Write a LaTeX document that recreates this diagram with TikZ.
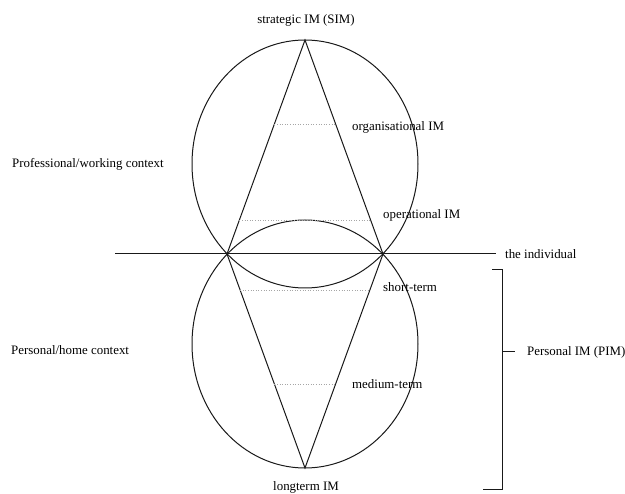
\documentclass[tikz,border=0pt]{standalone}
\usepackage{fontspec}
\setmainfont{Liberation Serif}
\usetikzlibrary{positioning,calc}
\tikzset{
  lbl/.style={font=\fontsize{12.9}{15}\selectfont,inner sep=0pt},
  frame/.style={line width=1pt,draw=black!90},
  level/.style={dotted,draw=gray!70,line width=0.6pt},
}

\begin{document}
\begin{tikzpicture}[x=1pt,y=-1pt]
\useasboundingbox (0,0) rectangle (625,494);
% the two contexts
\coordinate (cu) at (305,164);
\coordinate (cl) at (305,344);
\draw[frame] (cu) ellipse [x radius=113pt,y radius=124pt];
\draw[frame] (cl) ellipse [x radius=113pt,y radius=124pt];
% diamond
\coordinate (top) at (305,40);
\coordinate (bot) at (305,468);
\coordinate (bl) at (227,254);
\coordinate (br) at (383,254);
\draw[frame] (top) -- (bl) -- (bot) -- (br) -- cycle;
% labels
\node[lbl] (sim) at (306,20) {strategic IM (SIM)};
\node[lbl,anchor=west] (org) at (352,127) {organisational IM};
\node[lbl,anchor=west] (ops) at (383,215) {operational IM};
\node[lbl,anchor=west] (ind) at (505,254) {the individual};
\node[lbl,anchor=west] (st) at (383,287) {short-term};
\node[lbl,anchor=west] (mt) at (352,384) {medium-term};
\node[lbl] (lt) at (306,487) {longterm IM};
\node[lbl,anchor=west] (prof) at (12,164) {Professional/working context};
\node[lbl,anchor=west] (home) at (11,350) {Personal/home context};
\node[lbl,anchor=west] (pim) at (527,352) {Personal IM (PIM)};
% levels
\draw[level] ($(top)!0.393!(bl)$) -- ($(top)!0.393!(br)$);
\draw[level] ($(top)!0.841!(bl)$) -- ($(top)!0.841!(br)$);
\draw[level] ($(bl)!0.168!(bot)$) -- ($(br)!0.168!(bot)$);
\draw[level] ($(bl)!0.607!(bot)$) -- ($(br)!0.607!(bot)$);
% the individual
\coordinate (hl) at (115,254);
\draw[frame] (hl) -- ([xshift=-9pt]ind.west);
% bracket
\coordinate (bt) at (502,270);
\coordinate (bm) at (502,352);
\coordinate (bb) at (502,490);
\draw[frame] ([xshift=-10pt]bt) -- (bt) -- (bb) -- ([xshift=-19pt]bb);
\draw[frame] (bm) -- ([xshift=-12pt]pim.west);
\end{tikzpicture}
\end{document}
